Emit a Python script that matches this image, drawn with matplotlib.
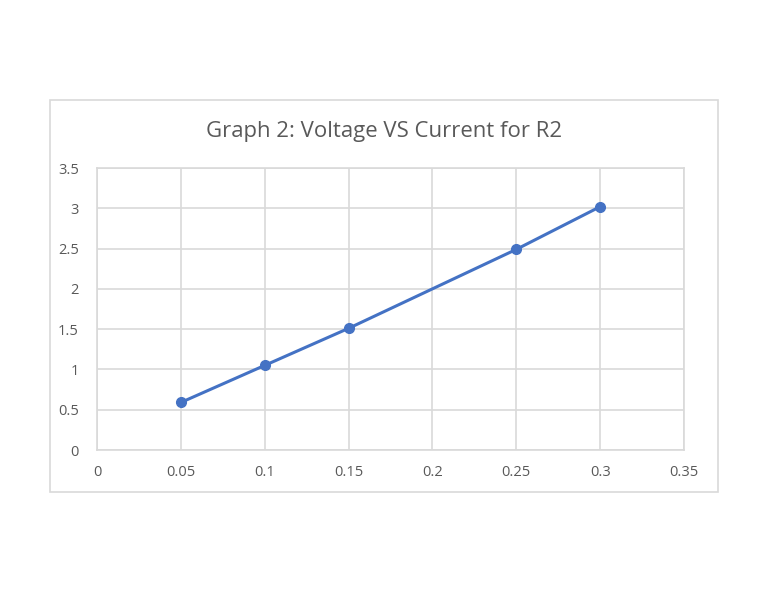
import matplotlib
matplotlib.use("Agg")
import matplotlib.pyplot as plt
from matplotlib.patches import Rectangle

current = [0.05, 0.1, 0.15, 0.25, 0.3]
voltage = [0.59, 1.05, 1.51, 2.49, 3.02]
x_ticks = [0, 0.05, 0.1, 0.15, 0.2, 0.25, 0.3, 0.35]
x_labels = ["0", "0.05", "0.1", "0.15", "0.2", "0.25", "0.3", "0.35"]
y_ticks = [0, 0.5, 1, 1.5, 2, 2.5, 3, 3.5]
y_labels = ["0", "0.5", "1", "1.5", "2", "2.5", "3", "3.5"]

plt.rcParams["font.family"] = ["Open Sans", "DejaVu Sans"]

fig = plt.figure(figsize=(7.68, 5.94), dpi=100)
# chart area border
fig.patches.append(Rectangle((50 / 768, 1 - 492 / 594), 668 / 768, 392 / 594,
                             transform=fig.transFigure, facecolor="none",
                             edgecolor="#d9d9d9", linewidth=1.2, zorder=-1))

ax = fig.add_axes([97 / 768, 1 - 450 / 594, 587 / 768, 282 / 594])
ax.plot(current, voltage, color="#4472c4", linewidth=2.2, marker="o", markersize=7)

ax.set_xlim(0, 0.35)
ax.set_ylim(0, 3.5)
ax.set_xticks(x_ticks)
ax.set_xticklabels(x_labels)
ax.set_yticks(y_ticks)
ax.set_yticklabels(y_labels)
ax.grid(True, color="#d9d9d9", linewidth=1.2)
ax.set_axisbelow(True)
for s in ax.spines.values():
    s.set_color("#d9d9d9")
    s.set_linewidth(1.2)
ax.tick_params(length=0, labelsize=10.5, colors="#595959")
ax.tick_params(axis="x", pad=11)
ax.tick_params(axis="y", pad=13)

fig.text(384 / 768, 1 - 132 / 594, "Graph 2: Voltage VS Current for R2",
         ha="center", va="center", fontsize=15.9, color="#595959")

fig.savefig("out.png", dpi=100)
